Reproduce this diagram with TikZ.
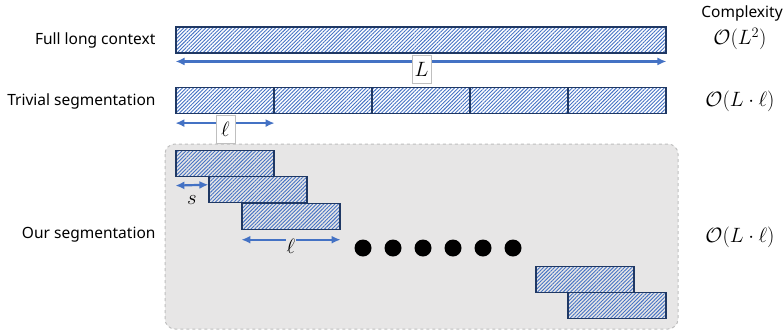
\documentclass[tikz,border=0pt]{standalone}
\usepackage{amsmath}
\usepackage{fontspec}
\setmainfont{Noto Sans}
\usepackage{tikz}
\usetikzlibrary{calc,arrows.meta,patterns.meta}
\definecolor{hatch}{RGB}{68,114,196}
\definecolor{navy}{RGB}{31,56,100}
\definecolor{panel}{RGB}{231,230,230}
\definecolor{rim}{RGB}{191,191,191}

\begin{document}
\begin{tikzpicture}[x=1pt,y=-1pt,
    seg/.style={draw=navy,line width=1.2pt,pattern={Lines[angle=45,distance=2.6pt,line width=0.9pt]},pattern color=hatch,inner sep=0pt,minimum width=98pt,minimum height=26pt},
    len/.style={{Latex[length=9pt,width=8pt]}-{Latex[length=9pt,width=8pt]},line width=2.2pt,draw=hatch},
    lenbox/.style={draw=rim,fill=white,inner sep=0pt,minimum width=19pt,minimum height=28pt,font=\fontsize{22}{24}\selectfont},
    lab/.style={anchor=east,font=\fontsize{15.5}{18}\selectfont},
    cplx/.style={font=\fontsize{20}{22}\selectfont}]
    \useasboundingbox (0,0) rectangle (784,333);
    % grey panel behind our segmentation
    \draw[dashed,draw=rim,fill=panel,line width=1pt,rounded corners=10pt](165,144) rectangle (678,329);
    % full long context
    \node[seg,minimum width=490pt](full) at (421,40){};
    \draw[len]($(full.south west)+(0,8)$)--($(full.south east)+(0,8)$);
    \node[lenbox](Lbox) at (421.5,69){$L$};
    % trivial segmentation
    \foreach \i in {0,...,4}
      \node[seg](t\i) at (225+98*\i,100.5){};
    \draw[len]($(t0.south west)+(0,9)$)--($(t0.south east)+(0,9)$);
    \node[lenbox](lbox) at (225.5,129){$\ell$};
    % our segmentation
    \node[seg](o1) at (225,163.5){};
    \node[seg](o2) at (258,189.8){};
    \node[seg](o3) at (291,216.1){};
    \draw[len]($(o1.south west)+(0,8.5)$)--($(o2.north west)+(0,8.5)$);
    \node[font=\fontsize{22}{24}\selectfont](s) at (192,200){$s$};
    \draw[len]($(o3.south west)+(0,10)$)--($(o3.south east)+(0,10)$);
    \node[fill=panel,inner sep=1pt,font=\fontsize{22}{24}\selectfont](l2) at ($(o3.south)+(0,17)$){$\ell$};
    \foreach \i in {0,...,5}
      \fill(363+30*\i,248) circle (8.5);
    \node[seg](o4) at (585,279.2){};
    \node[seg](o5) at (617,305.5){};
    % labels
    \node[lab](n1) at (159,40){Full long context};
    \node[lab](n2) at (159,101){Trivial segmentation};
    \node[lab](n3) at (159,235){Our segmentation};
    \node[font=\fontsize{15.5}{18}\selectfont](cx) at (742,13){Complexity};
    \node[cplx](c1) at (740,39){$\mathcal{O}(L^2)$};
    \node[cplx](c2) at (740,101){$\mathcal{O}(L\cdot\ell)$};
    \node[cplx](c3) at (740,237){$\mathcal{O}(L\cdot\ell)$};
  \end{tikzpicture}
\end{document}
